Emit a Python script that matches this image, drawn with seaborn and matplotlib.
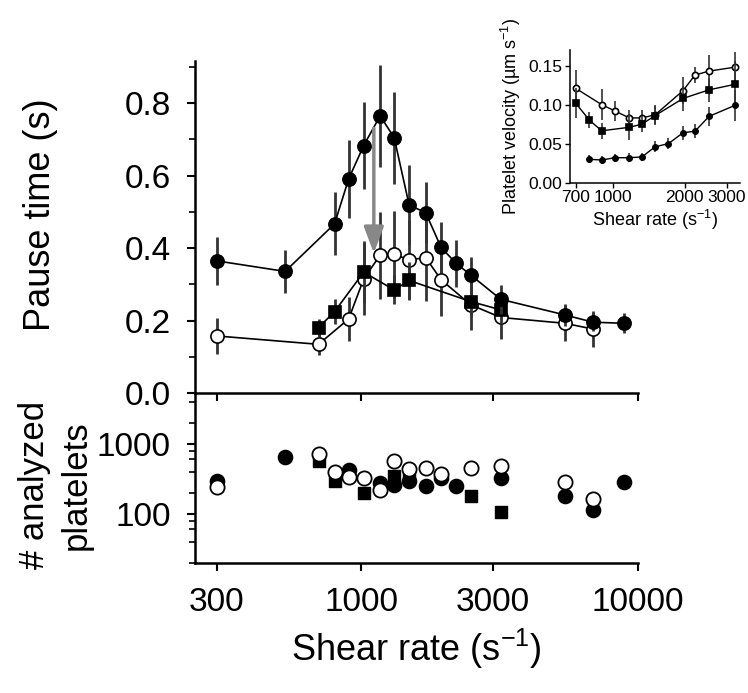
import matplotlib
matplotlib.use("Agg")
import matplotlib.pyplot as plt
import matplotlib.ticker as mticker
import seaborn as sns

# ---- main panel: pause time (s) vs shear rate (1/s) ----
shear_filled = [300, 530, 800, 900, 1020, 1170, 1315, 1490, 1710, 1945, 2200, 2490, 3200, 5460, 6900, 8900]
pause_filled = [0.365, 0.336, 0.467, 0.591, 0.683, 0.765, 0.705, 0.519, 0.498, 0.402, 0.359, 0.326, 0.259, 0.216, 0.196, 0.193]
err_filled = [0.067, 0.059, 0.087, 0.108, 0.12, 0.14, 0.127, 0.11, 0.085, 0.07, 0.065, 0.05, 0.04, 0.03, 0.025, 0.028]

shear_open = [300, 700, 900, 1020, 1170, 1315, 1490, 1710, 1945, 2490, 3200, 5460, 6900]
pause_open = [0.158, 0.135, 0.205, 0.315, 0.381, 0.383, 0.368, 0.374, 0.313, 0.244, 0.209, 0.193, 0.177]
err_open = [0.05, 0.03, 0.06, 0.1, 0.12, 0.12, 0.11, 0.12, 0.1, 0.07, 0.06, 0.05, 0.05]

shear_sq = [700, 800, 1020, 1315, 1490, 2490, 3200]
pause_sq = [0.181, 0.225, 0.334, 0.285, 0.311, 0.253, 0.230]
err_sq = [0.025, 0.035, 0.085, 0.04, 0.05, 0.04, 0.04]

# ---- lower panel: number of analyzed platelets ----
n_shear_filled = [300, 530, 900, 1170, 1315, 1490, 1710, 1945, 2200, 3200, 5460, 6900, 8900]
n_filled = [299, 659, 425, 274, 260, 296, 254, 327, 251, 324, 182, 112, 284]
n_shear_open = [300, 700, 800, 900, 1020, 1170, 1315, 1490, 1710, 1945, 2490, 3200, 5460, 6900]
n_open = [245, 713, 402, 341, 330, 220, 578, 440, 450, 373, 450, 490, 284, 162]
n_shear_sq = [700, 800, 1020, 1315, 1490, 2490, 3200]
n_sq = [572, 296, 197, 349, 361, 182, 108]

# ---- inset: platelet velocity ----
v_shear_open = [700, 900, 1020, 1175, 1325, 1505, 1970, 2210, 2530, 3240]
v_open = [0.121, 0.100, 0.092, 0.083, 0.083, 0.087, 0.118, 0.138, 0.143, 0.148]
v_err_open = [0.024, 0.02, 0.013, 0.01, 0.01, 0.012, 0.017, 0.01, 0.02, 0.02]
v_shear_sq = [700, 800, 900, 1175, 1325, 1505, 1970, 2530, 3240]
v_sq = [0.102, 0.080, 0.0665, 0.071, 0.075, 0.086, 0.108, 0.119, 0.126]
v_err_sq = [0.019, 0.01, 0.01, 0.016, 0.01, 0.012, 0.016, 0.015, 0.03]
v_shear_filled = [800, 900, 1020, 1175, 1325, 1505, 1710, 1970, 2210, 2530, 3240]
v_filled = [0.030, 0.029, 0.032, 0.032, 0.033, 0.046, 0.050, 0.064, 0.066, 0.085, 0.099]
v_err_filled = [0.005, 0.005, 0.005, 0.006, 0.005, 0.007, 0.007, 0.009, 0.009, 0.012, 0.02]

arrow_x = 1110
arrow_from, arrow_to = 0.731, 0.386

sns.set_theme(style="ticks")
plt.rcParams['font.family'] = ['Liberation Sans', 'DejaVu Sans']
plt.rcParams['mathtext.default'] = 'regular'
for k in ('text.color', 'axes.labelcolor', 'xtick.color', 'ytick.color', 'axes.edgecolor'):
    plt.rcParams[k] = 'black'

fig = plt.figure(figsize=(7.48, 6.93), dpi=100)
axn = fig.add_axes([0.2607, 0.188, 0.5916, 0.2444])
ax = fig.add_axes([0.2607, 0.4325, 0.5916, 0.4799])
axi = fig.add_axes([0.762, 0.7364, 0.227, 0.1914])
for a in (ax, axn, axi):
    a.set_facecolor('none')


def series(a, x, y, err, marker, face, ms, z, lw=1.2, elw=2.0):
    a.errorbar(x, y, yerr=err, fmt='none', ecolor='#333333', elinewidth=elw, capsize=0, zorder=z)
    sns.lineplot(x=x, y=y, ax=a, color='black', lw=lw, marker=marker, markersize=ms,
                 markerfacecolor=face, markeredgecolor='black', markeredgewidth=1.2,
                 estimator=None, sort=False, zorder=z + 0.5)


series(ax, shear_open, pause_open, err_open, 'o', 'white', 9.5, 2)
series(ax, shear_sq, pause_sq, err_sq, 's', 'black', 8.5, 3)
series(ax, shear_filled, pause_filled, err_filled, 'o', 'black', 9.5, 4)
ax.annotate('', xy=(arrow_x, arrow_to), xytext=(arrow_x, arrow_from),
            arrowprops=dict(arrowstyle='-|>,head_width=0.3,head_length=0.8', color='#888888',
                            lw=2.5, mutation_scale=20, shrinkA=0, shrinkB=0), zorder=5)

ax.set_xscale('log')
ax.set_xlim(250, 10000)
ax.set_ylim(0, 0.917)
ax.set_yticks([0, 0.2, 0.4, 0.6, 0.8])
ax.yaxis.set_minor_locator(mticker.MultipleLocator(0.1))
ax.yaxis.set_major_formatter(mticker.FormatStrFormatter('%.1f'))
ax.set_xticks([300, 1000, 3000, 10000])
ax.xaxis.set_minor_locator(mticker.NullLocator())
ax.set_xticklabels([])
ax.set_xlabel('')
ax.set_ylabel('')

sns.scatterplot(x=n_shear_filled, y=n_filled, ax=axn, marker='o', color='black', s=105,
                edgecolor='black', linewidth=1, zorder=2)
sns.scatterplot(x=n_shear_sq, y=n_sq, ax=axn, marker='s', color='black', s=85,
                edgecolor='black', linewidth=1, zorder=3)
sns.scatterplot(x=n_shear_open, y=n_open, ax=axn, marker='o', color='white', s=105,
                edgecolor='black', linewidth=1.3, zorder=4)
axn.set_xscale('log')
axn.set_yscale('log')
axn.set_xlim(250, 10000)
axn.set_ylim(20, 5300)
axn.set_xticks([300, 1000, 3000, 10000])
axn.set_xticklabels(['300', '1000', '3000', '10000'])
axn.xaxis.set_minor_locator(mticker.NullLocator())
axn.set_yticks([100, 1000])
axn.set_yticklabels(['100', '1000'])
axn.yaxis.set_minor_locator(mticker.FixedLocator([20, 40, 60, 80, 200, 400, 600, 800, 2000, 4000]))
axn.yaxis.set_minor_formatter(mticker.NullFormatter())
axn.set_xlabel(r'Shear rate (s$^{-1}$)', fontsize=26, labelpad=6)
axn.set_ylabel('')

for a in (ax, axn):
    sns.despine(ax=a)
    for s in ('left', 'bottom'):
        a.spines[s].set_linewidth(1.8)
    a.tick_params(which='major', direction='out', length=5.5, width=1.5, labelsize=24, pad=12)
    a.tick_params(which='minor', direction='out', length=4, width=1.2)
axn.tick_params(axis='x', which='major', pad=12)

fig.text(0.054, 0.69, 'Pause time (s)', rotation=90, fontsize=26, ha='center', va='center')
fig.text(0.074, 0.3, '# analyzed\nplatelets', rotation=90, fontsize=25, ha='center', va='center',
         linespacing=1.35)

# inset
series(axi, v_shear_open, v_open, v_err_open, 'o', 'white', 4.5, 2, lw=1.0, elw=1.2)
series(axi, v_shear_sq, v_sq, v_err_sq, 's', 'black', 4.2, 3, lw=1.0, elw=1.2)
series(axi, v_shear_filled, v_filled, v_err_filled, 'o', 'black', 3.8, 4, lw=1.0, elw=1.2)
axi.set_xscale('log')
axi.set_xlim(663, 3400)
axi.set_ylim(0, 0.17)
axi.set_yticks([0, 0.05, 0.10, 0.15])
axi.yaxis.set_major_formatter(mticker.FormatStrFormatter('%.2f'))
axi.set_xticks([700, 1000, 2000, 3000])
axi.set_xticklabels(['700', '1000', '2000', '3000'])
axi.xaxis.set_minor_locator(mticker.NullLocator())
sns.despine(ax=axi)
for s in ('left', 'bottom'):
    axi.spines[s].set_linewidth(1.1)
axi.tick_params(which='major', direction='out', length=3.5, width=1.0, labelsize=12.5, pad=2)
axi.set_xlabel(r'Shear rate (s$^{-1}$)', fontsize=13, labelpad=2)
axi.set_ylabel('Platelet velocity (µm s$^{-1}$)', fontsize=13, labelpad=4)

fig.savefig('out.png', dpi=100, facecolor='white')
